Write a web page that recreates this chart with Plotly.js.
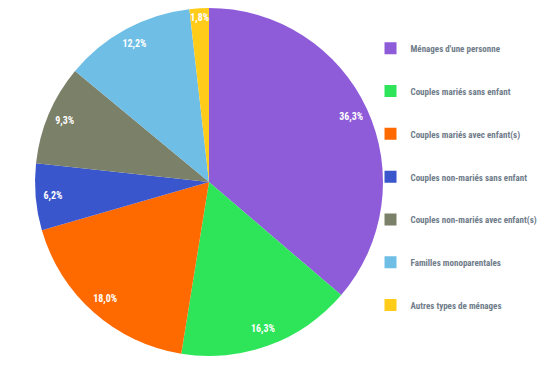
<!DOCTYPE html>
<html><head><meta charset="utf-8">
<script src="https://cdn.plot.ly/plotly-3.0.1.min.js"></script>
<style>html,body{margin:0;padding:0;background:#fff}#c{width:558px;height:365px}</style>
</head><body><div id="c"></div>
<script>
const categories = ["Ménages d'une personne","Couples mariés sans enfant","Couples mariés avec enfant(s)","Couples non-mariés sans enfant","Couples non-mariés avec enfant(s)","Familles monoparentales","Autres types de ménages"];
const values = [36.3, 16.3, 18.0, 6.2, 9.3, 12.2, 1.8];
const colors = ["#8E5BD9","#2EE55A","#FF6A00","#3A56CC","#7B8068","#6EBEE6","#FFCC1A"];

const FONT = "'Roboto Condensed','DejaVu Sans Condensed',sans-serif";
const DOMAIN = {x: [0.0627, 0.6864], y: [0.0247, 0.978]};

const slices = {
  type: 'pie',
  labels: categories.map(c => ' <br><span style="font-size:9px">' + c + '</span><br> '),
  values: values,
  marker: {colors: colors, line: {width: 0}},
  sort: false,
  direction: 'clockwise',
  rotation: 0,
  textinfo: 'none',
  hoverinfo: 'none',
  domain: DOMAIN
};
const labelsRing = {
  type: 'pie',
  labels: categories,
  values: values,
  hole: 0.8,
  marker: {colors: values.map(() => 'rgba(0,0,0,0)'), line: {width: 0}},
  sort: false,
  direction: 'clockwise',
  rotation: 0,
  showlegend: false,
  textinfo: 'text',
  text: values.map(v => '<b>' + v.toFixed(1).replace('.', ',') + '%</b>'),
  textposition: 'inside',
  insidetextorientation: 'horizontal',
  textfont: {color: '#ffffff', size: 10, family: FONT},
  hoverinfo: 'none',
  domain: DOMAIN
};
const layout = {
  width: 558, height: 365,
  margin: {l: 0, r: 0, t: 0, b: 0, autoexpand: false},
  paper_bgcolor: '#ffffff',
  showlegend: true,
  uniformtext: {mode: 'show', minsize: 10},
  legend: {x: 0.664, y: 0.94, xanchor: 'left', yanchor: 'top', bgcolor: 'rgba(0,0,0,0)',
    font: {size: 10.2, color: '#6f7c8a', family: FONT, weight: 'bold'}, valign: 'middle', itemwidth: 30}
};
Plotly.newPlot('c', [slices, labelsRing], layout, {displayModeBar: false, staticPlot: true});
</script></body></html>
